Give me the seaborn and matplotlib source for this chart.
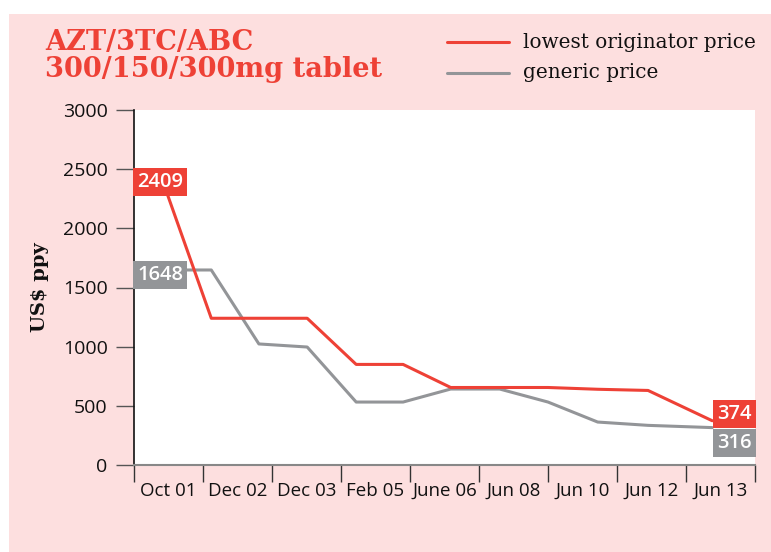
import matplotlib
matplotlib.use("Agg")
import matplotlib.pyplot as plt
import matplotlib.patches as mpatches
import matplotlib.lines as mlines
import seaborn as sns
import pandas as pd
import numpy as np

# ---- data ----
categories = ["Oct 01", "Dec 02", "Dec 03", "Feb 05", "June 06", "Jun 08", "Jun 10", "Jun 12", "Jun 13"]
# point positions measured in category-slot units (0..9)
orig_x = [0.41, 1.12, 1.81, 2.51, 3.22, 3.90, 4.59, 5.30, 6.00, 6.72, 7.45, 8.38]
orig_y = [2409, 1240, 1240, 1240, 850, 850, 655, 655, 655, 640, 630, 374]
gen_x = [0.41, 1.12, 1.81, 2.51, 3.22, 3.90, 4.59, 5.30, 6.00, 6.72, 7.45, 8.38]
gen_y = [1648, 1648, 1023, 997, 532, 532, 642, 642, 532, 363, 335, 316]
series_names = ["lowest originator price", "generic price"]
y_ticks = [0, 500, 1000, 1500, 2000, 2500, 3000]

RED = "#EE4136"
GRAY = "#939598"
PINK = "#FDDFDF"

df = pd.concat([
    pd.DataFrame({"x": orig_x, "y": orig_y, "series": series_names[0]}),
    pd.DataFrame({"x": gen_x, "y": gen_y, "series": series_names[1]}),
])

sns.set_theme(style="white")
plt.rcParams["font.family"] = ["Open Sans", "DejaVu Sans"]

fig = plt.figure(figsize=(7.71, 5.52), dpi=100)
fig.patch.set_facecolor("white")
fig.patches.append(mpatches.Rectangle((9 / 771, 0), 1 - 9 / 771, 1 - 14 / 552,
                                      transform=fig.transFigure, facecolor=PINK,
                                      edgecolor="none", zorder=-10))

ax = fig.add_axes([134 / 771, 1 - 465 / 552, 621 / 771, 355 / 552])
ax.set_facecolor("white")

sns.lineplot(data=df, x="x", y="y", hue="series", hue_order=series_names[::-1],
             palette=[GRAY, RED], linewidth=2.2, sort=False, ax=ax, legend=False,
             estimator=None)

ax.set_xlim(0, len(categories))
ax.set_ylim(0, 3000)
ax.set_yticks(y_ticks)
ax.set_yticklabels([str(v) for v in y_ticks], fontsize=14, color="#111111")
ax.set_xticks(np.arange(0, len(categories) + 1))
ax.set_xticklabels([])
ax.set_xticks(np.arange(len(categories)) + 0.5, minor=True)
ax.set_xticklabels(categories, minor=True, fontsize=13.5, color="#111111")
ax.tick_params(axis="x", which="major", direction="out", length=12, width=1, color="#333333", bottom=True)
ax.tick_params(axis="x", which="minor", length=0, pad=12)
ax.tick_params(axis="y", direction="out", length=13, width=1, color="#555555", left=True, pad=6)

for s in ["top", "right"]:
    ax.spines[s].set_visible(False)
ax.spines["left"].set_color("#111111")
ax.spines["left"].set_linewidth(1.2)
ax.spines["bottom"].set_color("#888888")
ax.spines["bottom"].set_linewidth(1.5)

ax.set_xlabel("")
ax.set_ylabel("US$ ppy", fontsize=14, fontweight="bold", family="DejaVu Serif",
              color="#111111", labelpad=10)

# value labels
def vlabel(x, y, txt, color, ha):
    ax.text(x, y, txt, ha=ha, va="center", fontsize=14.5, fontweight="semibold", color="white",
            bbox=dict(boxstyle="square,pad=0.2", facecolor=color, edgecolor="none"),
            zorder=6, clip_on=False)

vlabel(0.05, orig_y[0] - 20, str(orig_y[0]), RED, "left")
vlabel(0.05, gen_y[0] - 40, str(gen_y[0]), GRAY, "left")
vlabel(8.95, 430, str(orig_y[-1]), RED, "right")
vlabel(8.95, 186, str(gen_y[-1]), GRAY, "right")

# title
fig.text(45 / 771, 1 - 29 / 552, "AZT/3TC/ABC\n300/150/300mg tablet", ha="left", va="top",
         fontsize=19.6, fontweight="bold", family="DejaVu Serif", color=RED, linespacing=0.98)

# legend
for i, (name, col) in enumerate(zip(series_names, [RED, GRAY])):
    yy = 1 - (42 + 31 * i) / 552
    fig.lines.append(mlines.Line2D([447 / 771, 509 / 771], [yy, yy], transform=fig.transFigure,
                                   color=col, linewidth=2.2))
    fig.text(523 / 771, yy, name, ha="left", va="center", fontsize=14.4,
             family="DejaVu Serif", color="#111111")

fig.savefig("out.png", dpi=100)
